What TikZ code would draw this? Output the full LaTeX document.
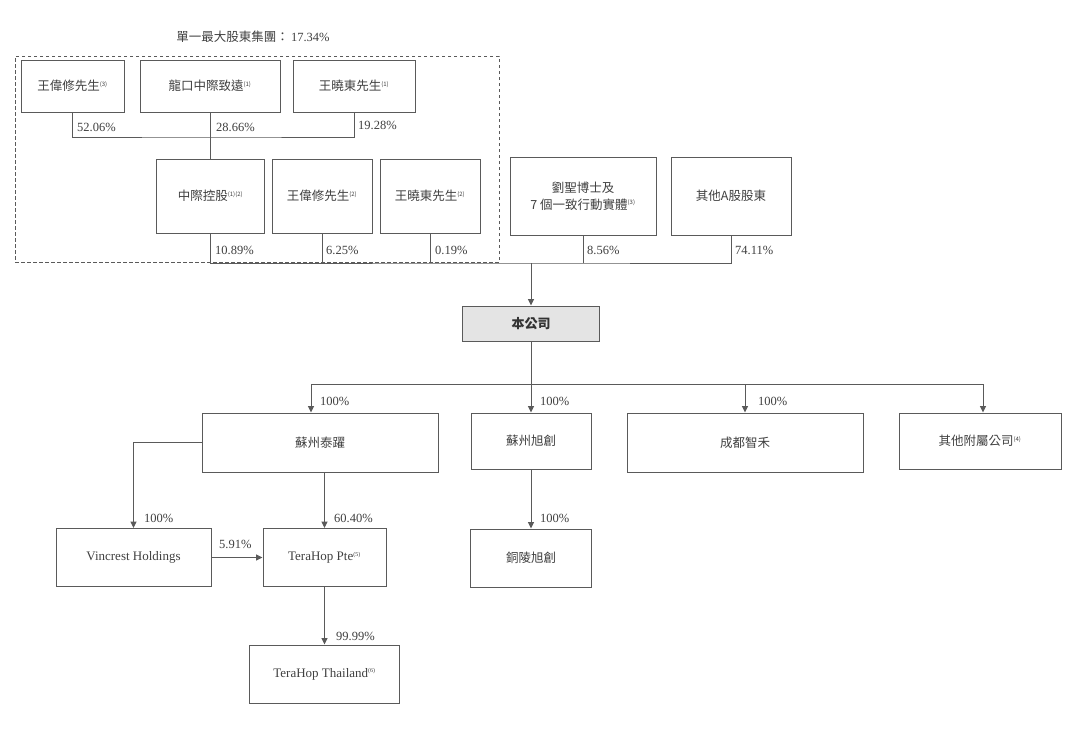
\documentclass[tikz,border=0pt]{standalone}
\usepackage{fontspec}
\setmainfont{Liberation Serif}
\newfontfamily\cjk{Noto Sans CJK TC}
\usetikzlibrary{arrows.meta}
\definecolor{ln}{HTML}{5A5A5A}
\definecolor{tx}{HTML}{404040}
\definecolor{cofill}{HTML}{E4E4E4}
\newcommand{\fnote}[1]{\textsuperscript{\fontsize{6}{6}\selectfont(#1)}}
\begin{document}
\begin{tikzpicture}[x=1pt,y=-1pt,
  box/.style={draw=ln,line width=1pt,text=tx,font=\fontsize{12.5}{17}\selectfont\cjk,inner sep=0pt,align=center},
  latbox/.style={box,font=\fontsize{13}{15}\selectfont\rmfamily},
  pct/.style={text=tx,font=\fontsize{12.5}{14}\selectfont\rmfamily,anchor=west,inner sep=0pt},
  conn/.style={draw=ln,line width=1pt},
  arr/.style={conn,-{Triangle[length=6.5pt,width=6pt]}}]
\fill[white] (0,0) rectangle (1080,740);
\useasboundingbox (0,0) rectangle (1080,740);

% title and group frame
\node[text=tx,font=\fontsize{12.5}{14}\selectfont\cjk,inner sep=0pt] (title) at (253,37) {單一最大股東集團：\,\rmfamily 17.34\%};
\node[draw=ln,line width=1pt,dash pattern=on 3.5pt off 2.5pt,minimum width=484,minimum height=206,inner sep=0pt] (grp) at (257,159) {};

% top group
\node[box,minimum width=103,minimum height=52] (w1) at (72.5,86) {王偉修先生\fnote{3}};
\node[box,minimum width=140,minimum height=52] (lk) at (210,86) {龍口中際致遠\fnote{1}};
\node[box,minimum width=122,minimum height=52] (w3) at (354,86) {王曉東先生\fnote{1}};
\node[box,minimum width=108,minimum height=74] (zj) at (210.5,196) {中際控股\fnote{1)(2}};
\node[box,minimum width=100,minimum height=74] (w2) at (322,196) {王偉修先生\fnote{2}};
\node[box,minimum width=100,minimum height=74] (w4) at (430,196) {王曉東先生\fnote{2}};
\node[box,minimum width=146,minimum height=78] (liu) at (583,196) {劉聖博士及\\7 個一致行動實體\fnote{3}};
\node[box,minimum width=120,minimum height=78] (oth) at (731,196) {其他A股股東};

% company
\node[box,fill=cofill,minimum width=137,minimum height=35,font=\fontsize{13}{15}\selectfont\cjk\bfseries,text=black!80] (co) at (531,323.5) {本公司};

% subsidiaries
\node[box,minimum width=236,minimum height=59] (ty) at (320,442.5) {蘇州泰躍};
\node[box,minimum width=120,minimum height=56] (xc) at (531,441) {蘇州旭創};
\node[box,minimum width=236,minimum height=59] (cd) at (745,442.5) {成都智禾};
\node[box,minimum width=162,minimum height=56] (oa) at (980,441) {其他附屬公司\fnote{4}};
\node[latbox,minimum width=155,minimum height=58] (vh) at (133.5,557.5) {Vincrest Holdings};
\node[latbox,minimum width=123,minimum height=58] (tp) at (324.5,557.5) {TeraHop Pte\fnote{5}};
\node[latbox,minimum width=150,minimum height=58] (tt) at (324.5,674) {TeraHop Thailand\fnote{6}};
\node[box,minimum width=121,minimum height=58] (tl) at (531,558) {銅陵旭創};

% percentage labels
\node[pct] (p1) at (77,127) {52.06\%};
\node[pct] (p2) at (216,127) {28.66\%};
\node[pct] (p3) at (358,125) {19.28\%};
\node[pct] (p4) at (215,250) {10.89\%};
\node[pct] (p5) at (326,250) {6.25\%};
\node[pct] (p6) at (435,250) {0.19\%};
\node[pct] (p7) at (587,250) {8.56\%};
\node[pct] (p8) at (735,250) {74.11\%};
\node[pct] (p9) at (320,401) {100\%};
\node[pct] (p10) at (540,401) {100\%};
\node[pct] (p11) at (758,401) {100\%};
\node[pct] (p12) at (144,518) {100\%};
\node[pct] (p13) at (334,518) {60.40\%};
\node[pct] (p14) at (219,544) {5.91\%};
\node[pct] (p15) at (336,636) {99.99\%};
\node[pct] (p16) at (540,518) {100\%};

% connectors: top group
\coordinate (b1) at (210,137);
\draw[conn] (w1.south) |- (b1) -| (w3.south);
\draw[conn] (lk.south) -- (lk.south |- zj.north);
\coordinate (b2) at (531,263);
\draw[conn] (zj.south) |- (b2) -| (oth.south);
\draw[conn] (w2.south) -- (w2.south |- b2);
\draw[conn] (w4.south) -- (w4.south |- b2);
\draw[conn] (liu.south) -- (liu.south |- b2);
\draw[arr] (b2) -- (co.north);

% connectors: subsidiaries
\coordinate (b3L) at (311,384);
\coordinate (b3R) at (983,384);
\coordinate (b3M) at (745,384);
\draw[conn] (b3L) -- (b3R);
\draw[arr] (co.south) -- (xc.north);
\draw[arr] (b3L) -- (b3L |- ty.north);
\draw[arr] (b3M) -- (cd.north);
\draw[arr] (b3R) -- (b3R |- oa.north);
\draw[arr] (ty.west) -| (vh.north);
\draw[arr] (ty.south -| tp.north) -- (tp.north);
\draw[arr] (vh.east) -- (tp.west);
\draw[arr] (tp.south) -- (tt.north);
\draw[arr] (xc.south) -- (tl.north);
\end{tikzpicture}
\end{document}
